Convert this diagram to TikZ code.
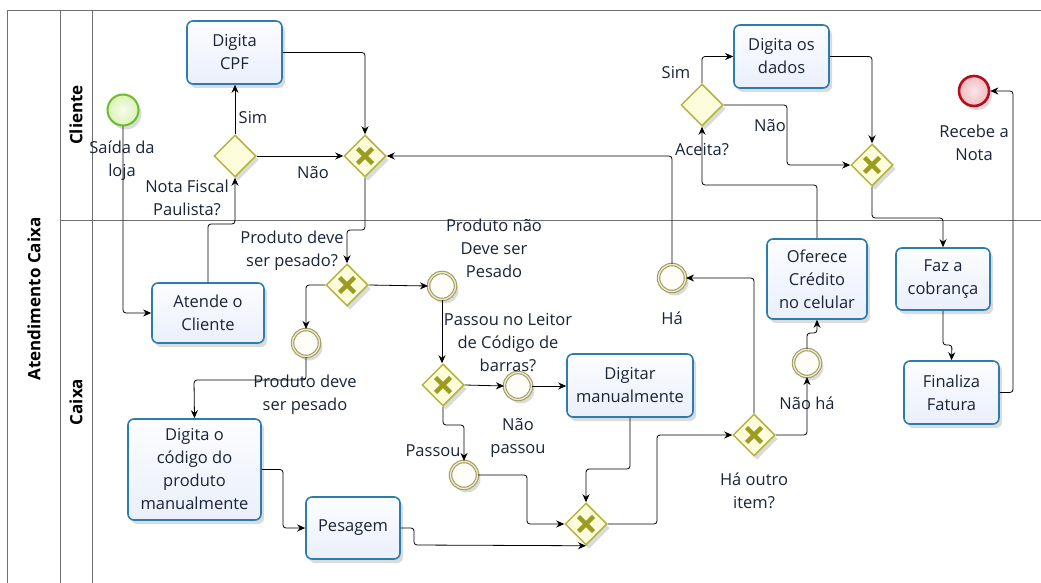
\documentclass[tikz,border=0pt]{standalone}
\usepackage{fontspec}
\setmainfont{Open Sans}
\usetikzlibrary{shapes.geometric,arrows.meta,shadows}

\definecolor{frameln}{HTML}{707070}
\definecolor{txt}{HTML}{1A2438}
\definecolor{taskln}{HTML}{2C7DAE}
\definecolor{tasktop}{HTML}{FCFDFF}
\definecolor{taskbot}{HTML}{EAEFFB}
\definecolor{gateln}{HTML}{B4B43C}
\definecolor{gatefill}{HTML}{FDFDDC}
\definecolor{gatex}{HTML}{9C9C20}
\definecolor{evln}{HTML}{A09C5E}
\definecolor{evgap}{HTML}{EFEBD2}
\definecolor{evfill}{HTML}{FFFDF7}
\definecolor{startln}{HTML}{6CBD2C}
\definecolor{startin}{HTML}{F7FCEC}
\definecolor{startout}{HTML}{DCF2B6}
\definecolor{endln}{HTML}{B20E1C}
\definecolor{endin}{HTML}{FCE6E8}
\definecolor{endout}{HTML}{F1BAC0}

\tikzset{
  soft/.style={drop shadow={shadow xshift=3pt,shadow yshift=-4pt,opacity=.14,fill=black}},
  task/.style={draw=taskln,line width=1.6pt,rounded corners=6pt,
    top color=tasktop,bottom color=taskbot,soft,
    align=center,inner sep=0pt,text=txt},
  gate/.style={diamond,aspect=1,draw=gateln,line width=1.5pt,fill=gatefill,
    minimum width=42pt,minimum height=42pt,inner sep=0pt,soft},
  xgate/.style={gate,path picture={
    \draw[gatex,line width=4.5pt]
      ([shift={(-7.5pt,-7.5pt)}]path picture bounding box.center) --
      ([shift={(7.5pt,7.5pt)}]path picture bounding box.center)
      ([shift={(-7.5pt,7.5pt)}]path picture bounding box.center) --
      ([shift={(7.5pt,-7.5pt)}]path picture bounding box.center);}},
  midev/.style={circle,draw=evln,line width=1.1pt,double=evgap,
    double distance=1.3pt,fill=evfill,minimum size=27pt,inner sep=0pt,soft},
  startev/.style={circle,draw=startln,line width=2pt,inner color=startin,
    outer color=startout,minimum size=31pt,inner sep=0pt,soft},
  endev/.style={circle,draw=endln,line width=2.6pt,inner color=endin,
    outer color=endout,minimum size=30pt,inner sep=0pt,soft},
  lbl/.style={align=center,text=txt,inner sep=0pt},
  flow/.style={draw=black,line width=.8pt,rounded corners=3pt,
    -{Stealth[length=8pt,width=7pt]}},
  lanetitle/.style={rotate=90,font=\fontsize{17}{20}\selectfont\bfseries,text=black}
}

\begin{document}
\begin{tikzpicture}[x=1pt,y=-1pt,font=\fontsize{16.5}{23}\selectfont]
\useasboundingbox[fill=white] (0,0) rectangle (1041,583);

% pool and lanes
\draw[frameln,line width=1pt] (1041,11) -- (7,11) -- (7,583);
\draw[frameln,line width=1pt] (60,11) -- (60,583);
\draw[frameln,line width=1pt] (92,11) -- (92,583);
\draw[frameln,line width=1pt] (60,220) -- (1041,220);
\node[lanetitle] (pool) at (34,299) {Atendimento Caixa};
\node[lanetitle] (laneA) at (76,115) {Cliente};
\node[lanetitle] (laneB) at (76,402) {Caixa};

% activities
\node[task,minimum width=95pt,minimum height=63pt] (cpf) at (234.5,52.5) {Digita\\CPF};
\node[task,minimum width=112pt,minimum height=60pt] (atende) at (208,313) {Atende o\\Cliente};
\node[task,minimum width=133pt,minimum height=101pt] (codigo) at (194.5,469.5) {Digita o\\código do\\produto\\manualmente};
\node[task,minimum width=94pt,minimum height=62pt] (pesagem) at (353,528) {Pesagem};
\node[task,minimum width=126pt,minimum height=63pt] (digitar) at (630,385.5) {Digitar\\manualmente};
\node[task,minimum width=100pt,minimum height=80pt] (oferece) at (817,279) {Oferece\\Crédito\\no celular};
\node[task,minimum width=95pt,minimum height=63pt] (dados) at (781.5,56.5) {Digita os\\dados};
\node[task,minimum width=94pt,minimum height=62pt] (faz) at (943,279) {Faz a\\cobrança};
\node[task,minimum width=95pt,minimum height=63pt] (finaliza) at (951.5,392.5) {Finaliza\\Fatura};

% gateways
\node[gate] (gwNF) at (235,156) {};
\node[xgate] (gw1) at (365,156) {};
\node[xgate] (gw2) at (347,285) {};
\node[xgate] (gw3) at (443,385) {};
\node[xgate] (merge) at (586,524) {};
\node[xgate] (gw4) at (754,435) {};
\node[gate] (gwA) at (702,105) {};
\node[xgate] (gw5) at (872,165) {};

% events
\node[startev] (start) at (123,110) {};
\node[endev] (end) at (974,91) {};
\node[midev] (evNP) at (442,286) {};
\node[midev] (evP) at (306,343) {};
\node[midev] (evNPass) at (518,386) {};
\node[midev] (evPass) at (464,475) {};
\node[midev] (evHa) at (672,278) {};
\node[midev] (evNH) at (807,363) {};

% labels
\node[lbl] (tStart) at (122,160.5) {Saída da\\loja};
\node[lbl] (tNF) at (187,198) {Nota Fiscal\\Paulista?};
\node[lbl] (tSim1) at (253,118) {Sim};
\node[lbl] (tNao1) at (313,173) {Não};
\node[lbl] (tGw2) at (292,250.5) {Produto deve\\ser pesado?};
\node[lbl] (tNP) at (494,248) {Produto não\\Deve ser\\Pesado};
\node[lbl] (tP) at (305,394.5) {Produto deve\\ser pesado};
\node[lbl] (tGw3) at (508,342.5) {Passou no Leitor\\de Código de\\barras?};
\node[lbl] (tNPass) at (518,437.5) {Não\\passou};
\node[lbl] (tPass) at (433,451) {Passou};
\node[lbl] (tHa) at (672,318) {Há};
\node[lbl] (tGw4) at (754,491) {Há outro\\item?};
\node[lbl] (tNH) at (807,403) {Não há};
\node[lbl] (tA) at (702,150) {Aceita?};
\node[lbl] (tSim2) at (676,73) {Sim};
\node[lbl] (tNao2) at (770,126) {Não};
\node[lbl] (tEnd) at (974,142.5) {Recebe a\\Nota};

% sequence flows
\draw[flow] (start.south) |- (atende.west);
\draw[flow] (atende.north) |- (235,224) -- (gwNF.south);
\draw[flow] (gwNF.north) -- (gwNF.north |- cpf.south);
\draw[flow] (gwNF.east) -- (gw1.west);
\draw[flow] (cpf.east) -| (gw1.north);
\draw[flow] (gw1.south) |- (347,230) -- (gw2.north);
\draw[flow] (gw2.east) -- (evNP.west);
\draw[flow] (gw2.west) -| (evP.north);
\draw[flow] (evP.south) |- (194,380) -- (codigo.north);
\draw[flow] (codigo.east) -| (283,500) |- (pesagem.west);
\draw[flow] (pesagem.east) -| (414,545) -- (merge.south);
\draw[flow] (evNP.south) -- (evNP.south |- gw3.north);
\draw[flow] (gw3.east) -- (evNPass.west);
\draw[flow] (evNPass.east) -- (evNPass.east -| digitar.west);
\draw[flow] (gw3.south) |- (464,425) -- (evPass.north);
\draw[flow] (evPass.east) -| (527,500) |- (merge.west);
\draw[flow] (digitar.south) |- (586,469) -- (merge.north);
\draw[flow] (merge.east) -| (657,480) |- (gw4.west);
\draw[flow] (gw4.north) |- (evHa.east);
\draw[flow] (evHa.north) |- (gw1.east);
\draw[flow] (gw4.east) -| (evNH.south);
\draw[flow] (evNH.north) |- (817,333) -- (oferece.south);
\draw[flow] (oferece.north) |- (702,185) -- (gwA.south);
\draw[flow] (gwA.north) |- (dados.west);
\draw[flow] (gwA.east) -| (787,140) |- (gw5.west);
\draw[flow] (dados.east) -| (gw5.north);
\draw[flow] (gw5.south) |- (943,218) -- (faz.north);
\draw[flow] (faz.south) |- (952,345) -- (finaliza.north);
\draw[flow] (finaliza.east) -| (1013,200) |- (end.east);
\end{tikzpicture}
\end{document}
